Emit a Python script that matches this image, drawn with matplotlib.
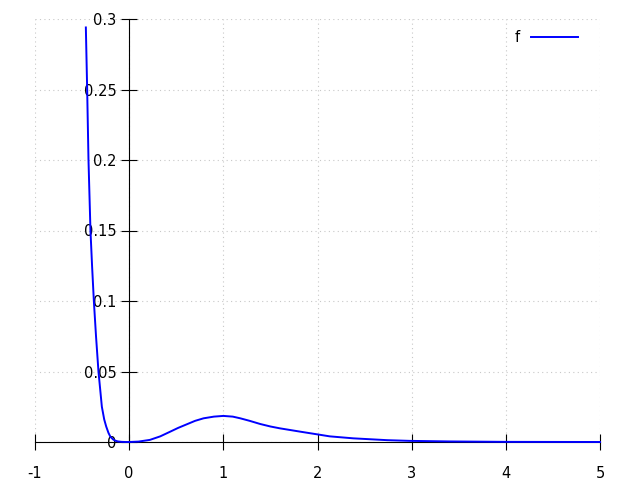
import matplotlib.pyplot as plt
import numpy as np

# values
x_left = [-0.46, -0.446, -0.432, -0.411, -0.394, -0.375, -0.352, -0.326,
          -0.29, -0.265, -0.244, -0.22, -0.20, -0.17, -0.149, -0.12, -0.08,
          -0.04]
y_left = [0.294, 0.25, 0.20, 0.15, 0.125, 0.10, 0.075, 0.05,
          0.025, 0.016, 0.011, 0.0065, 0.0038, 0.0018, 0.001, 0.0004, 0.0001,
          0.0]
x_bump = [0.0, 0.1, 0.22, 0.33, 0.435, 0.52, 0.61, 0.70, 0.79, 0.90, 1.0,
          1.1, 1.18, 1.28, 1.39, 1.5, 1.6, 1.71, 1.82, 1.99, 2.13, 2.38,
          2.74, 2.98, 3.4, 4.0, 5.0]
y_bump = [0.0, 0.0003, 0.0015, 0.004, 0.0073, 0.010, 0.0125, 0.015, 0.0168,
          0.018, 0.0185, 0.018, 0.0168, 0.015, 0.0128, 0.011, 0.0097, 0.0085,
          0.0073, 0.0055, 0.0040, 0.0026, 0.0013, 0.0008, 0.0004, 0.0001, 0.0]
x_ticks = [-1, 0, 1, 2, 3, 4, 5]
y_ticks = [0, 0.05, 0.1, 0.15, 0.2, 0.25, 0.3]
y_labels = ['0', '0.05', '0.1', '0.15', '0.2', '0.25', '0.3']

xs = x_left + x_bump
ys = y_left + y_bump

fig = plt.figure(figsize=(6.4, 4.8), dpi=100)
ax = fig.add_axes([35 / 640, 1 - 442 / 480, 565 / 640, 423 / 480])

ax.plot(xs, ys, color='#0000ff', linewidth=1.4, label='f', clip_on=False,
        zorder=3)

ax.set_xlim(-1, 5)
ax.set_ylim(0, 0.3)
ax.set_xticks(x_ticks)
ax.set_xticklabels([str(v) for v in x_ticks])
ax.set_yticks(y_ticks)
ax.set_yticklabels(y_labels)

ax.spines['left'].set_position(('data', 0))
ax.spines['bottom'].set_position(('data', 0))
ax.spines['top'].set_visible(False)
ax.spines['right'].set_visible(False)
for s in ('left', 'bottom'):
    ax.spines[s].set_linewidth(0.8)

ax.tick_params(axis='both', direction='inout', length=12, width=0.8,
               labelsize=10.5)
ax.tick_params(axis='x', pad=11)
ax.tick_params(axis='y', pad=3)

ax.set_axisbelow(True)
ax.grid(True, which='major', color='#c8c8c8', linestyle=(0, (1, 3)),
        linewidth=0.8)

leg = ax.legend(loc='upper right', frameon=False, markerfirst=False,
                handlelength=3.2, fontsize=10.5, borderaxespad=0.3,
                handletextpad=0.8, bbox_to_anchor=(0.979, 0.998))

fig.savefig('out.png', dpi=100)
